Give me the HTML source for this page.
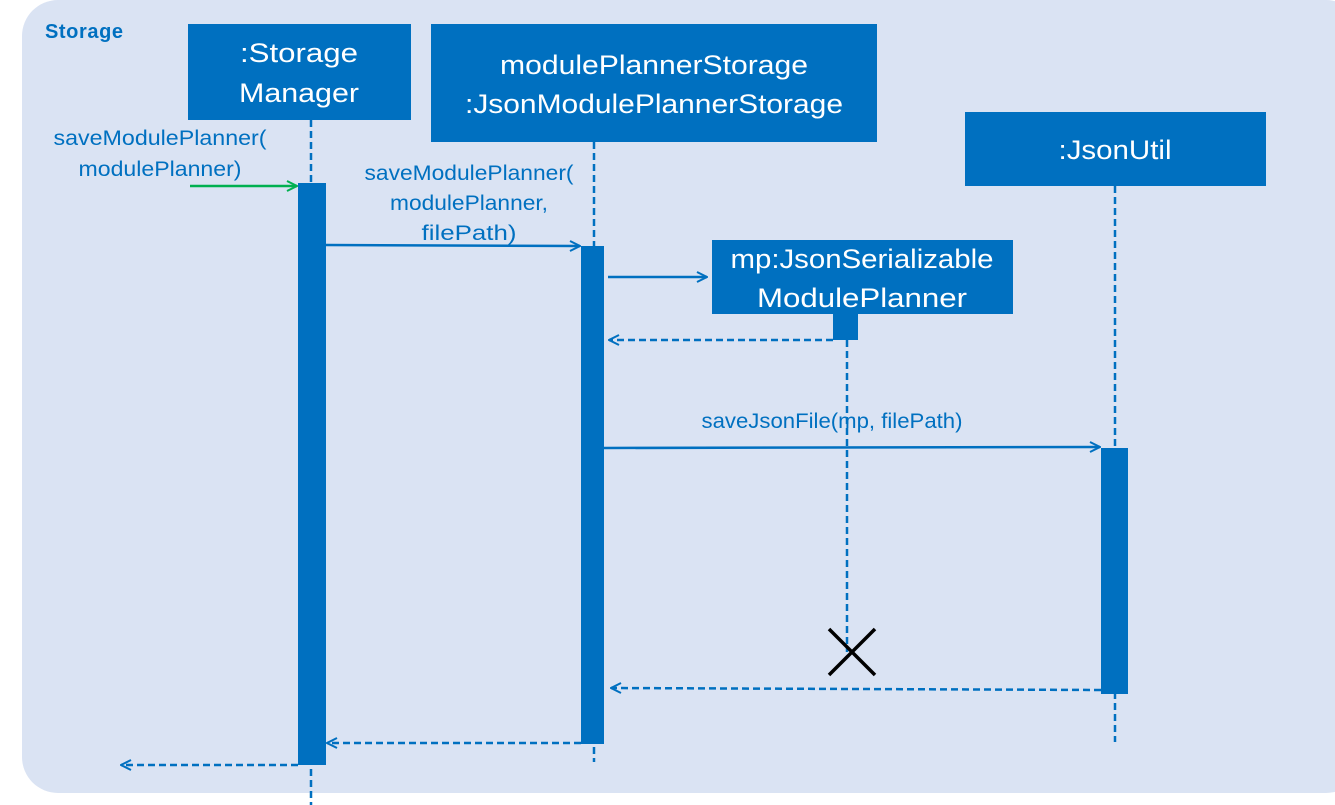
<!DOCTYPE html>
<html><head><meta charset="utf-8"><style>
html,body{margin:0;padding:0;background:#fff;width:1335px;height:805px;overflow:hidden}
svg{display:block}
text{font-family:"Liberation Sans",sans-serif}
</style></head><body>
<svg width="1335" height="805" viewBox="0 0 1335 805" xmlns="http://www.w3.org/2000/svg">
<defs>
<marker id="a" viewBox="0 0 12 12" refX="11" refY="6" markerWidth="12" markerHeight="12" markerUnits="userSpaceOnUse" orient="auto"><path d="M1,1 L11,6 L1,11" fill="none" stroke="#0070C0" stroke-width="2"/></marker>
<marker id="g" viewBox="0 0 12 12" refX="11" refY="6" markerWidth="12" markerHeight="12" markerUnits="userSpaceOnUse" orient="auto"><path d="M1,1 L11,6 L1,11" fill="none" stroke="#00B050" stroke-width="2"/></marker>
</defs>
<rect x="22" y="0" width="1340" height="793" rx="36" fill="#DAE3F3"/>
<text x="45" y="38" font-size="20" font-weight="bold" fill="#0070C0" textLength="78">Storage</text>
<g stroke="#0070C0" stroke-width="2.5" stroke-dasharray="7,4" fill="none">
<line x1="311" y1="120" x2="311" y2="805"/>
<line x1="594" y1="142" x2="594" y2="762"/>
<line x1="1115" y1="186" x2="1115" y2="742"/>
<line x1="847" y1="340" x2="847" y2="652"/>
</g>
<g fill="#0070C0">
<rect x="188" y="24" width="223" height="96"/>
<rect x="431" y="24" width="446" height="118"/>
<rect x="965" y="112" width="301" height="74"/>
<rect x="712" y="240" width="301" height="74"/>
<rect x="298" y="183" width="28" height="582"/>
<rect x="581" y="246" width="23" height="498"/>
<rect x="1101" y="448" width="27" height="246"/>
<rect x="833" y="314" width="25" height="26"/>
</g>
<g fill="#fff" font-size="27" text-anchor="middle">
<text x="299" y="62" textLength="118" lengthAdjust="spacingAndGlyphs">:Storage</text>
<text x="299" y="102" textLength="120" lengthAdjust="spacingAndGlyphs">Manager</text>
<text x="654" y="74" textLength="308" lengthAdjust="spacingAndGlyphs">modulePlannerStorage</text>
<text x="654" y="113" textLength="378" lengthAdjust="spacingAndGlyphs">:JsonModulePlannerStorage</text>
<text x="1115" y="159" textLength="113" lengthAdjust="spacingAndGlyphs">:JsonUtil</text>
<text x="862" y="268" textLength="263" lengthAdjust="spacingAndGlyphs">mp:JsonSerializable</text>
<text x="862" y="307" textLength="210" lengthAdjust="spacingAndGlyphs">ModulePlanner</text>
</g>
<g fill="#0070C0" font-size="21" text-anchor="middle">
<text x="160" y="145" textLength="213" lengthAdjust="spacingAndGlyphs">saveModulePlanner(</text>
<text x="160" y="176" textLength="163" lengthAdjust="spacingAndGlyphs">modulePlanner)</text>
<text x="469" y="180" textLength="209" lengthAdjust="spacingAndGlyphs">saveModulePlanner(</text>
<text x="469" y="210" textLength="158" lengthAdjust="spacingAndGlyphs">modulePlanner,</text>
<text x="469" y="240" textLength="95" lengthAdjust="spacingAndGlyphs">filePath)</text>
<text x="832" y="428" textLength="261" lengthAdjust="spacingAndGlyphs">saveJsonFile(mp, filePath)</text>
</g>
<line x1="190" y1="186" x2="297" y2="186" stroke="#00B050" stroke-width="2.5" marker-end="url(#g)"/>
<g stroke="#0070C0" stroke-width="2.5" fill="none">
<line x1="326" y1="245" x2="580" y2="246" marker-end="url(#a)"/>
<line x1="608" y1="277" x2="707" y2="277" marker-end="url(#a)"/>
<line x1="604" y1="448" x2="1100" y2="447" marker-end="url(#a)"/>
</g>
<g stroke="#0070C0" stroke-width="2.5" stroke-dasharray="7,4" fill="none">
<line x1="833" y1="340" x2="609" y2="340" marker-end="url(#a)"/>
<line x1="1101" y1="690" x2="611" y2="688" marker-end="url(#a)"/>
<line x1="581" y1="743" x2="327" y2="743" marker-end="url(#a)"/>
<line x1="298" y1="765" x2="121" y2="765" marker-end="url(#a)"/>
</g>
<g stroke="#000" stroke-width="3.5">
<line x1="829" y1="629" x2="875" y2="675"/>
<line x1="875" y1="629" x2="829" y2="675"/>
</g>
</svg>
</body></html>
